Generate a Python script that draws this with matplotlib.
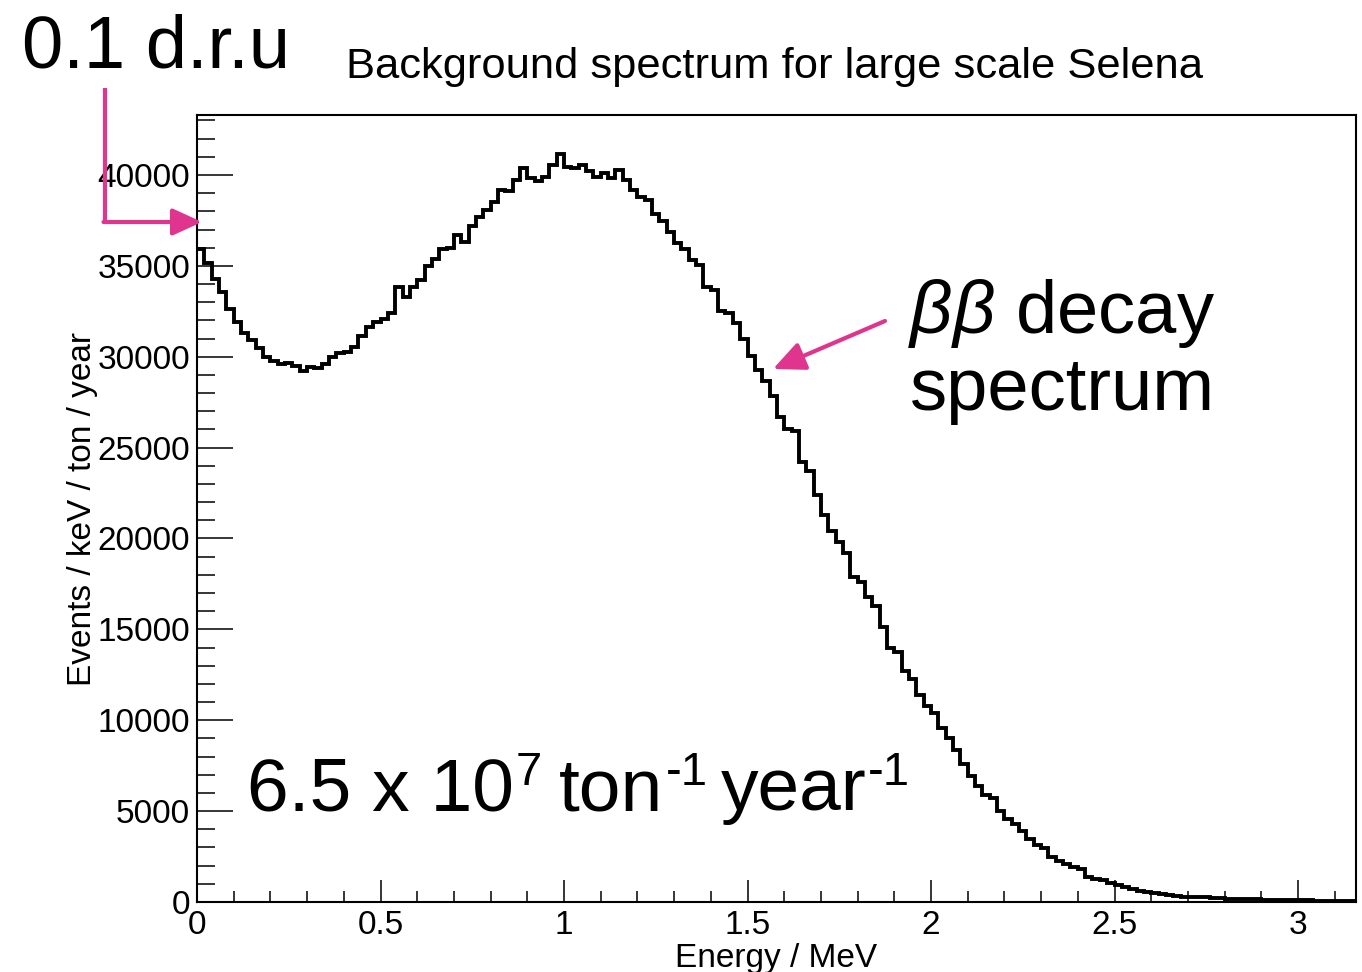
import numpy as np
import matplotlib
matplotlib.use("Agg")
import matplotlib.pyplot as plt
from matplotlib.ticker import MultipleLocator
from matplotlib.patches import FancyArrowPatch, ArrowStyle
from matplotlib.lines import Line2D

plt.rcParams['font.family'] = ['Liberation Sans', 'DejaVu Sans']
plt.rcParams['mathtext.fontset'] = 'custom'
plt.rcParams['mathtext.rm'] = 'Liberation Sans'
plt.rcParams['mathtext.it'] = 'Liberation Sans:italic'

# ---- data ----
bin_width = 0.02  # MeV
counts = [
    35900, 35150, 34300, 33550, 32650, 31900, 31300, 30900, 30500, 30000,
    29750, 29600, 29650, 29500, 29200, 29450, 29400, 29600, 30000, 30200,
    30250, 30550, 31150, 31650, 31900, 32050, 32400, 33850, 33300, 33850,
    34200, 35000, 35400, 35900, 36000, 36700, 36300, 37200, 37700, 38100,
    38500, 39150, 39100, 39700, 40400, 39850, 39650, 39900, 40550, 41150,
    40450, 40400, 40550, 40200, 39900, 40100, 39850, 40250, 39700, 39200,
    38800, 38600, 37850, 37450, 36850, 36250, 35950, 35300, 35050, 33850,
    33650, 32500, 32400, 31850, 31000, 30050, 29250, 28650, 27850, 26700,
    26000, 25900, 24200, 23700, 22400, 21300, 20400, 19800, 19200, 17900,
    17600, 16800, 16300, 15150, 14000, 13750, 12700, 12250, 11400, 10800,
    10400, 9550, 9050, 8350, 7600, 6950, 6400, 5900, 5700, 5000,
    4550, 4280, 3900, 3450, 3150, 2950, 2490, 2280, 2080, 1920,
    1800, 1350, 1260, 1210, 1050, 920, 810, 710, 610, 540,
    490, 440, 390, 340, 290, 275, 262, 250, 230, 210,
    190, 175, 165, 155, 140, 130, 125, 118, 110, 103,
    97, 90, 82, 70, 60, 50, 40, 30,
]
edges = np.arange(len(counts) + 1) * bin_width

x_ticklabels = ["0", "0.5", "1", "1.5", "2", "2.5", "3"]
y_ticklabels = ["0", "5000", "10000", "15000", "20000", "25000", "30000", "35000", "40000"]
title = "Background spectrum for large scale Selena"
xlabel = "Energy / MeV"
ylabel = "Events / keV / ton / year"

W, H = 1362, 972
fig = plt.figure(figsize=(W / 100, H / 100), dpi=100)
L, R, T, B = 197, 1356, 115, 902
ax = fig.add_axes([L / W, 1 - B / H, (R - L) / W, (B - T) / H])

ax.stairs(counts, edges, color='black', lw=2.8, baseline=None)

ax.set_xlim(0, 3.158)
ax.set_ylim(0, 43300)

ax.xaxis.set_minor_locator(MultipleLocator(0.1))
ax.yaxis.set_minor_locator(MultipleLocator(1000))
ax.set_xticks([0, 0.5, 1, 1.5, 2, 2.5, 3])
ax.set_xticklabels(x_ticklabels)
ax.set_yticks([0, 5000, 10000, 15000, 20000, 25000, 30000, 35000, 40000])
ax.set_yticklabels(y_ticklabels)

ax.tick_params(axis='y', which='major', direction='in', length=26, width=1.1,
               labelsize=24, pad=5, right=False)
ax.tick_params(axis='y', which='minor', direction='in', length=13, width=1.1, right=False)
ax.tick_params(axis='x', which='major', direction='in', length=16, width=1.1,
               labelsize=24, pad=6, top=False)
ax.tick_params(axis='x', which='minor', direction='in', length=8, width=1.1, top=False)
for s in ax.spines.values():
    s.set_linewidth(1.5)


def fpx(x, y):
    return (x / W, 1 - y / H)


# titles / labels
fig.text(*fpx(775, 78), title, fontsize=31.3, ha='center', va='baseline')
fig.text(*fpx(776, 967), xlabel, fontsize=24, ha='center', va='baseline')
fig.text(*fpx(83, 509), ylabel, fontsize=24, ha='center', va='center', rotation=90)

# annotations
fig.text(*fpx(22, 68), "0.1 d.r.u", fontsize=53.5, ha='left', va='baseline')
fig.text(*fpx(908, 333), r"$\beta\beta$ decay", fontsize=53.5, ha='left', va='baseline')
fig.text(*fpx(910, 410), "spectrum", fontsize=53.5, ha='left', va='baseline')

# rate text with superscripts laid out piece by piece
renderer = fig.canvas.get_renderer()
pieces = [("6.5 x 10", 54, 0), ("7", 34, 25), ("ton", 54, 0), ("-1", 34, 25),
          ("year", 54, 0), ("-1", 34, 25)]
gaps = [0, 2, 17, 2, 13, 2]
xcur = 247
base = 810
for (txt, size, raise_px), gap in zip(pieces, gaps):
    xcur += gap
    t = fig.text(*fpx(xcur, base - raise_px), txt, fontsize=size,
                 ha='left', va='baseline')
    xcur += t.get_window_extent(renderer).width

pink = '#e0358f'
# L-shaped arrow towards y axis
x0, y0 = fpx(105, 88)
x1, y1 = fpx(105, 222)
fig.add_artist(Line2D([x0, x1], [y0, y1], transform=fig.transFigure, color=pink,
                      lw=3, solid_capstyle='butt'))
style = ArrowStyle('-|>', head_length=1.2, head_width=0.55)
a1 = FancyArrowPatch(fpx(103.5, 222), fpx(202, 222), transform=fig.transFigure,
                     arrowstyle=style, mutation_scale=15, color=pink, lw=3,
                     shrinkA=0, shrinkB=0)
fig.add_artist(a1)
a2 = FancyArrowPatch(fpx(885, 321), fpx(773, 369), transform=fig.transFigure,
                     arrowstyle=style, mutation_scale=16, color=pink, lw=3,
                     shrinkA=0, shrinkB=0)
fig.add_artist(a2)

fig.savefig("out.png", dpi=100)
